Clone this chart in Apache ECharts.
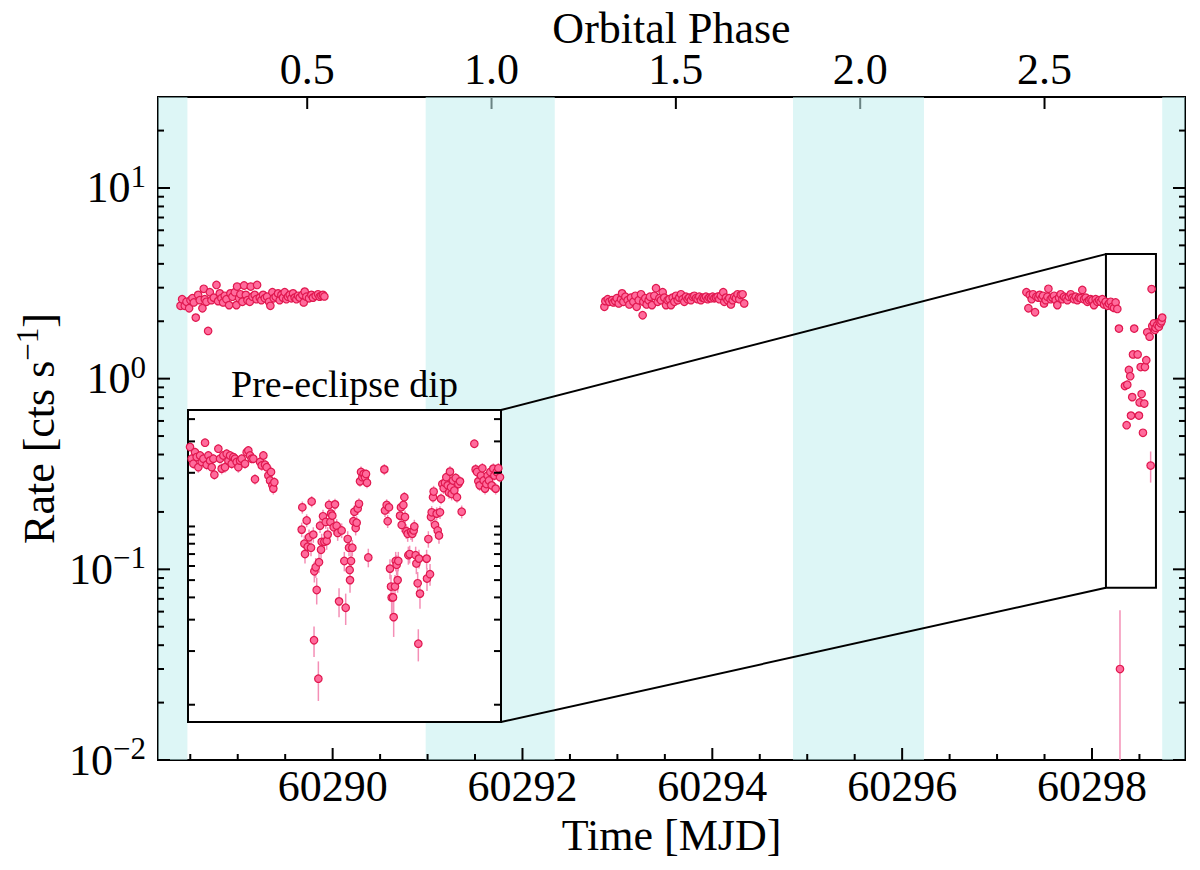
<!DOCTYPE html>
<html>
<head>
<meta charset="utf-8">
<script src="https://cdn.jsdelivr.net/npm/echarts/dist/echarts.min.js"></script>
<style>
  html, body { margin: 0; padding: 0; background: #fff; }
  #chart { width: 1200px; height: 870px; background: #fff; }
</style>
</head>
<body>
<div id="chart"></div>
<script>
// ---------------- data ----------------
const xRange = [60288.16, 60298.98];
const yRange = [0.01, 30];
const T0 = 60287.790;      // orbital phase zero (MJD)
const PERIOD = 3.884;      // orbital period (days)

const xMajorTicks = [60290, 60292, 60294, 60296, 60298];
const xMinorTicks = [60288.5, 60289, 60289.5, 60290.5, 60291, 60291.5, 60292.5, 60293, 60293.5,
  60294.5, 60295, 60295.5, 60296.5, 60297, 60297.5, 60298.5];
const yMajorTicks = [0.01, 0.1, 1, 10];
const yMinorTicks = [0.02, 0.03, 0.04, 0.05, 0.06, 0.07, 0.08, 0.09,
  0.2, 0.3, 0.4, 0.5, 0.6, 0.7, 0.8, 0.9, 2, 3, 4, 5, 6, 7, 8, 9, 20];
const phaseTicks = [0.5, 1.0, 1.5, 2.0, 2.5];

const eclipseBands = [[60288.16, 60288.47], [60290.98, 60292.34], [60294.85, 60296.23], [60298.74, 60298.98]];

const insetXRange = [60298.147, 60298.674];
const insetYRange = [0.08, 4.5];
const insetTicks = [0.1, 0.2, 0.3, 0.4, 0.5, 0.6, 0.7, 0.8, 0.9, 1, 2, 3, 4];

// main light curve: [MJD, rate] or [MJD, rate, err]
const segment1 = [
  [60288.397,2.41],[60288.414,2.61],[60288.442,2.41],[60288.460,2.53],[60288.488,2.34],[60288.502,2.58],
  [60288.523,2.64],[60288.537,2.51],[60288.558,2.09],[60288.583,2.75],[60288.600,2.58],[60288.628,2.34],
  [60288.642,2.96],[60288.653,2.61],[60288.670,2.53],[60288.688,1.78],[60288.706,2.84],[60288.723,2.58],
  [60288.748,2.66],[60288.776,3.10],[60288.793,2.55],[60288.811,2.80],[60288.828,2.64],[60288.846,2.51],
  [60288.863,2.72],[60288.881,2.61],[60288.909,2.43],[60288.923,2.80],[60288.944,2.69],[60288.969,2.84],
  [60288.986,2.43],[60288.993,3.04],[60289.014,2.64],[60289.028,2.77],[60289.049,2.53],[60289.067,3.08],
  [60289.085,2.75],[60289.102,2.58],[60289.127,2.53],[60289.137,3.04],[60289.155,2.69],[60289.179,2.75],
  [60289.197,2.61],[60289.204,3.10],[60289.232,2.66],[60289.249,2.58],[60289.267,2.75],[60289.285,2.64],
  [60289.309,2.69],[60289.330,2.53],[60289.344,2.41],[60289.365,2.84],[60289.379,2.64],[60289.400,2.69],
  [60289.425,2.80],[60289.442,2.58],[60289.460,2.75],[60289.477,2.66],[60289.495,2.84],[60289.512,2.61],
  [60289.530,2.69],[60289.548,2.75],[60289.565,2.64],[60289.583,2.80],[60289.600,2.66],[60289.618,2.61],
  [60289.635,2.72],[60289.653,2.66],[60289.681,2.75],[60289.695,2.51],[60289.706,2.86],[60289.723,2.69],
  [60289.751,2.64],[60289.776,2.75],[60289.793,2.66],[60289.821,2.72],[60289.846,2.77],[60289.863,2.69],
  [60289.881,2.72],[60289.898,2.75],[60289.913,2.70]
];
const segment2 = [
  [60292.863,2.38],[60292.873,2.55],[60292.898,2.61],[60292.915,2.53],[60292.943,2.58],[60292.957,2.51],
  [60292.978,2.55],[60292.993,2.64],[60293.014,2.48],[60293.038,2.61],[60293.049,2.80],[60293.063,2.53],
  [60293.084,2.69],[60293.108,2.58],[60293.126,2.45],[60293.143,2.66],[60293.168,2.53],[60293.189,2.72],
  [60293.203,2.38],[60293.224,2.58],[60293.249,2.77],[60293.266,2.15],[60293.273,2.53],[60293.294,2.64],
  [60293.308,2.45],[60293.329,2.58],[60293.343,2.69],[60293.364,2.43],[60293.389,2.72],[60293.407,2.98],
  [60293.424,2.53],[60293.442,2.64],[60293.459,2.58],[60293.477,2.84],[60293.494,2.66],[60293.512,2.43],
  [60293.529,2.58],[60293.547,2.61],[60293.565,2.43],[60293.582,2.66],[60293.600,2.53],[60293.617,2.72],
  [60293.635,2.58],[60293.652,2.66],[60293.670,2.77],[60293.687,2.61],[60293.705,2.53],[60293.722,2.69],
  [60293.740,2.61],[60293.757,2.66],[60293.775,2.58],[60293.793,2.69],[60293.810,2.72],[60293.828,2.64],
  [60293.845,2.61],[60293.863,2.69],[60293.880,2.58],[60293.898,2.66],[60293.915,2.64],[60293.933,2.69],
  [60293.951,2.61],[60293.968,2.66],[60293.986,2.64],[60294.003,2.69],[60294.021,2.64],[60294.038,2.66],
  [60294.056,2.69],[60294.073,2.61],[60294.091,2.72],[60294.115,2.84],[60294.126,2.53],[60294.143,2.66],
  [60294.161,2.58],[60294.178,2.64],[60294.196,2.45],[60294.214,2.58],[60294.231,2.69],[60294.249,2.64],
  [60294.266,2.77],[60294.284,2.61],[60294.301,2.75],[60294.319,2.77],[60294.336,2.48]
];
const segment3 = [
  [60297.309,2.84],[60297.330,2.34],[60297.344,2.75],[60297.365,2.61],[60297.379,2.77],[60297.400,2.23],
  [60297.414,2.69],[60297.435,2.66],[60297.449,2.75],[60297.470,2.64],[60297.484,2.72],[60297.495,2.48],
  [60297.512,2.58],[60297.530,2.69],[60297.541,2.96],[60297.565,2.61],[60297.583,2.66],[60297.600,2.72],
  [60297.618,2.58],[60297.635,2.43],[60297.653,2.66],[60297.670,2.77],[60297.688,2.61],[60297.705,2.69],
  [60297.723,2.64],[60297.741,2.58],[60297.758,2.69],[60297.776,2.77],[60297.793,2.66],[60297.811,2.61],
  [60297.828,2.69],[60297.846,2.58],[60297.863,2.66],[60297.881,2.64],[60297.898,2.92],[60297.916,2.61],
  [60297.934,2.66],[60297.951,2.53],[60297.969,2.58],[60297.986,2.61],[60298.004,2.58],[60298.021,2.43],
  [60298.039,2.61],[60298.056,2.53],[60298.074,2.58],[60298.091,2.53],[60298.109,2.61],[60298.127,2.45],
  [60298.144,2.53],[60298.162,2.41],[60298.179,2.48],[60298.197,2.53],[60298.214,2.38],[60298.232,2.35],
  [60298.249,2.51],[60298.267,2.32]
];
const dipMain = [
  [60298.284,1.83],[60298.295,0.030,0.031],[60298.347,0.915],[60298.365,0.57],[60298.372,0.93],
  [60298.389,1.11],[60298.403,1.03],[60298.411,0.64],[60298.424,0.80],[60298.432,1.34],[60298.445,1.83],
  [60298.481,1.34],[60298.495,0.64],[60298.502,0.75],[60298.513,1.15],[60298.523,0.83],[60298.537,0.52],
  [60298.551,0.74],[60298.558,1.15],[60298.572,1.25],[60298.582,1.75],[60298.607,1.66],[60298.618,0.35,0.065],
  [60298.628,2.95,0.12],[60298.635,1.89],[60298.653,1.95],[60298.663,1.80],[60298.671,1.85],[60298.688,1.91],
  [60298.705,1.87],[60298.713,1.99],[60298.723,1.95],[60298.733,2.00],[60298.740,2.09]
];

// inset (finer binning): [MJD, rate, err]
const insetData = [
  [60298.1504,2.79,0.15],[60298.1532,2.40,0.15],[60298.1560,2.25,0.15],[60298.1588,2.61,0.15],[60298.1616,2.45,0.15],
  [60298.1644,2.15,0.15],[60298.1673,2.50,0.15],[60298.1701,2.30,0.15],[60298.1729,2.40,0.15],[60298.1757,2.95,0.15],
  [60298.1785,2.22,0.15],[60298.1813,2.50,0.15],[60298.1841,2.34,0.15],[60298.1869,2.15,0.15],[60298.1897,2.40,0.15],
  [60298.1914,1.95,0.12],[60298.1981,2.73,0.15],[60298.2009,2.40,0.15],[60298.2037,2.11,0.15],[60298.2065,2.50,0.15],
  [60298.2093,2.15,0.15],[60298.2121,2.56,0.15],[60298.2150,2.34,0.15],[60298.2178,2.50,0.15],[60298.2206,2.25,0.15],
  [60298.2234,2.45,0.15],[60298.2262,2.40,0.15],[60298.2290,2.30,0.15],[60298.2318,2.15,0.15],[60298.2346,2.34,0.15],
  [60298.2374,2.40,0.15],[60298.2430,2.25,0.15],[60298.2458,2.61,0.15],[60298.2486,2.67,0.15],[60298.2514,2.50,0.15],
  [60298.2542,2.40,0.15],[60298.2570,2.40,0.15],[60298.2598,1.84,0.12],[60298.2683,2.30,0.15],[60298.2711,2.20,0.15],
  [60298.2739,2.50,0.15],[60298.2767,2.22,0.15],[60298.2795,2.15,0.15],[60298.2823,1.93,0.12],[60298.2851,1.81,0.12],
  [60298.2868,2.02,0.15],[60298.2890,1.70,0.12],[60298.2907,1.63,0.12],[60298.2924,1.77,0.12],
  [60298.3384,0.96,0.09],[60298.3395,1.28,0.10],[60298.3429,0.80,0.09],[60298.3440,0.70,0.08],[60298.3468,1.08,0.09],
  [60298.3485,0.77,0.08],[60298.3508,0.87,0.09],[60298.3541,0.76,0.08],[60298.3552,1.38,0.10],[60298.3580,0.90,0.09],
  [60298.3597,0.56,0.075],[60298.3592,0.23,0.045],[60298.3620,0.59,0.075],[60298.3637,0.44,0.075],[60298.3665,0.14,0.035],
  [60298.3676,0.63,0.08],[60298.3693,1.01,0.09],[60298.3710,0.74,0.08],[60298.3721,0.82,0.09],[60298.3743,1.14,0.10],
  [60298.3766,0.82,0.09],[60298.3788,1.06,0.09],[60298.3805,0.83,0.09],[60298.3822,0.90,0.09],[60298.3844,1.32,0.10],
  [60298.3867,1.06,0.09],[60298.3878,1.18,0.10],[60298.3900,1.15,0.10],[60298.3923,0.99,0.09],[60298.3945,1.33,0.10],
  [60298.3973,1.01,0.09],[60298.3990,0.92,0.09],[60298.4013,0.38,0.07],[60298.4057,0.95,0.09],[60298.4102,0.64,0.08],
  [60298.4125,0.35,0.07],[60298.4159,0.85,0.09],[60298.4181,0.76,0.08],[60298.4192,0.57,0.075],[60298.4198,0.50,0.075],
  [60298.4215,0.64,0.08],[60298.4237,0.76,0.08],[60298.4254,1.07,0.09],[60298.4271,1.21,0.10],[60298.4293,0.98,0.09],
  [60298.4310,1.05,0.09],[60298.4327,1.26,0.10],[60298.4349,1.34,0.10],[60298.4366,1.79,0.12],[60298.4383,2.02,0.15],
  [60298.4405,1.89,0.12],[60298.4428,1.97,0.12],[60298.4450,1.89,0.12],[60298.4467,1.97,0.12],[60298.4484,1.76,0.12],
  [60298.4506,0.67,0.08],[60298.4776,2.09,0.15],[60298.4787,1.23,0.10],[60298.4815,1.32,0.10],[60298.4832,1.07,0.09],
  [60298.4854,1.28,0.10],[60298.4871,0.58,0.075],[60298.4888,0.46,0.075],[60298.4899,0.40,0.075],[60298.4922,0.40,0.075],
  [60298.4933,0.31,0.07],[60298.4955,0.46,0.075],[60298.4967,0.64,0.08],[60298.4983,0.61,0.08],[60298.5000,0.50,0.075],
  [60298.5011,0.64,0.08],[60298.5040,1.15,0.10],[60298.5056,1.28,0.10],[60298.5068,1.02,0.09],[60298.5096,1.32,0.10],
  [60298.5113,1.46,0.10],[60298.5124,1.13,0.10],[60298.5146,0.94,0.09],[60298.5169,0.91,0.09],[60298.5180,0.69,0.08],
  [60298.5202,0.70,0.08],[60298.5225,0.93,0.09],[60298.5247,0.91,0.09],[60298.5270,0.95,0.09],[60298.5281,1.00,0.09],
  [60298.5303,0.69,0.08],[60298.5315,0.62,0.08],[60298.5337,0.48,0.075],[60298.5348,0.22,0.045],[60298.5359,0.66,0.08],
  [60298.5376,0.42,0.075],[60298.5488,0.66,0.08],[60298.5494,0.51,0.075],[60298.5517,0.85,0.09],[60298.5545,0.54,0.075],
  [60298.5561,1.13,0.10],[60298.5573,1.20,0.10],[60298.5595,1.46,0.10],[60298.5606,1.57,0.12],[60298.5629,1.02,0.09],
  [60298.5657,1.18,0.10],[60298.5674,0.95,0.09],[60298.5696,0.89,0.09],[60298.5713,1.20,0.10],[60298.5730,1.43,0.10],
  [60298.5752,1.73,0.12],[60298.5775,1.64,0.12],[60298.5797,1.76,0.12],[60298.5819,1.89,0.12],[60298.5842,1.70,0.12],
  [60298.5864,1.55,0.12],[60298.5881,2.03,0.15],[60298.5898,1.66,0.12],[60298.5909,1.52,0.12],[60298.5932,1.81,0.12],
  [60298.5954,1.59,0.12],[60298.5977,1.87,0.12],[60298.5999,1.46,0.10],[60298.6022,1.73,0.12],[60298.6050,1.79,0.12],
  [60298.6078,1.21,0.10],
  [60298.6291,2.91,0.15],[60298.6313,2.09,0.15],[60298.6336,2.02,0.15],[60298.6358,1.79,0.12],[60298.6381,1.70,0.12],
  [60298.6403,1.93,0.12],[60298.6426,2.12,0.15],[60298.6448,1.81,0.12],[60298.6471,1.63,0.12],[60298.6493,1.73,0.12],
  [60298.6515,1.93,0.12],[60298.6538,1.81,0.12],[60298.6560,2.02,0.15],[60298.6583,1.70,0.12],[60298.6611,2.11,0.15],
  [60298.6628,1.93,0.12],[60298.6650,1.63,0.12],[60298.6667,2.02,0.15],[60298.6695,2.12,0.15],[60298.6723,1.89,0.12]
];

// ---------------- styles ----------------
const FONT = '"Liberation Serif", "Times New Roman", Times, serif';
const FILL = '#ff6b9c';
const EDGE = '#e0184f';
const ERRC = '#f48fb6';
const BAND = 'rgba(193,239,239,0.55)';
const MAJOR_LEN = 12, MINOR_LEN = 6, INSET_LEN = 7;

const mainPoints = segment1.concat(segment2, segment3, dipMain);
const mainScatter = mainPoints.map(p => [p[0], p[1]]);
const mainErr = mainPoints.filter(p => p.length > 2).map(p => [p[0], Math.max(p[1] - p[2], 1e-4), p[1] + p[2]]);
const insetScatter = insetData.map(p => [p[0], p[1]]);
const insetErr = insetData.map(p => [p[0], Math.max(p[1] - p[2], 1e-4), p[1] + p[2]]);

function supLabel(v) {
  const e = Math.round(Math.log10(v));
  return '{b|10}{s|' + (e < 0 ? '\u2212' : '') + Math.abs(e) + '}';
}
const labelRich = {
  b: { fontFamily: FONT, fontSize: 44, lineHeight: 54, color: '#000' },
  s: { fontFamily: FONT, fontSize: 31, lineHeight: 26, verticalAlign: 'top', color: '#000' }
};

function errRender(params, api) {
  const x = api.value(0);
  const p1 = api.coord([x, api.value(2)]);
  const p2 = api.coord([x, api.value(1)]);
  return { type: 'line', shape: { x1: p1[0], y1: p1[1], x2: p2[0], y2: p2[1] },
           style: { stroke: ERRC, lineWidth: 1.5 } };
}

const chart = echarts.init(document.getElementById('chart'), null, { renderer: 'svg' });

const option = {
  animation: false,
  textStyle: { fontFamily: FONT, color: '#000' },
  grid: [
    { left: 158, top: 97, width: 1027, height: 663, show: true, borderColor: '#000', borderWidth: 2,
      containLabel: false, outerBoundsMode: 'none' },
    { left: 188, top: 410, width: 313, height: 312, show: true, borderColor: '#000', borderWidth: 2,
      backgroundColor: '#fff', z: 5, containLabel: false, outerBoundsMode: 'none' }
  ],
  xAxis: [
    { // 0 main bottom: MJD
      type: 'value', gridIndex: 0, position: 'bottom', min: xRange[0], max: xRange[1],
      axisLine: { show: false }, splitLine: { show: false }, axisTick: { show: false },
      axisLabel: { customValues: xMajorTicks, formatter: v => String(v), fontSize: 44, lineHeight: 44, fontFamily: FONT, color: '#000', margin: 4 },
      name: 'Time [MJD]', nameLocation: 'middle', nameGap: 53, nameMoveOverlap: false,
      nameTextStyle: { fontSize: 44, lineHeight: 44, fontFamily: FONT, color: '#000' }
    },
    { // 1 top: orbital phase
      type: 'value', gridIndex: 0, position: 'top',
      min: (xRange[0] - T0) / PERIOD, max: (xRange[1] - T0) / PERIOD,
      axisLine: { show: false }, splitLine: { show: false }, axisTick: { show: false },
      axisLabel: { customValues: phaseTicks, formatter: v => v.toFixed(1), fontSize: 44, lineHeight: 40, fontFamily: FONT, color: '#000', margin: 8 },
      name: 'Orbital Phase', nameLocation: 'middle', nameGap: 49, nameMoveOverlap: false,
      nameTextStyle: { fontSize: 44, lineHeight: 40, fontFamily: FONT, color: '#000' }
    },
    { // 2 inset
      type: 'value', gridIndex: 1, position: 'top', min: insetXRange[0], max: insetXRange[1], z: 6,
      axisLine: { show: false }, splitLine: { show: false }, axisTick: { show: false }, axisLabel: { show: false },
      name: 'Pre-eclipse dip', nameLocation: 'middle', nameGap: 7, nameMoveOverlap: false,
      nameTextStyle: { fontSize: 38, fontFamily: FONT, color: '#000' }
    }
  ],
  yAxis: [
    { // 0 main left
      type: 'log', logBase: 10, gridIndex: 0, position: 'left', min: yRange[0], max: yRange[1],
      axisLine: { show: false }, splitLine: { show: false }, axisTick: { show: false },
      axisLabel: { show: true, customValues: yMajorTicks, formatter: supLabel, rich: labelRich, margin: 12 },
      name: '{n|Rate [cts s}{s|\u22121}{n|]}', nameLocation: 'middle', nameGap: 92, nameMoveOverlap: false,
      nameTextStyle: { rich: {
        n: { fontFamily: FONT, fontSize: 44, lineHeight: 54, color: '#000' },
        s: { fontFamily: FONT, fontSize: 31, lineHeight: 26, verticalAlign: 'top', color: '#000' } } }
    },
    { // 1 inset
      type: 'log', logBase: 10, gridIndex: 1, position: 'left', min: insetYRange[0], max: insetYRange[1], z: 6,
      axisLine: { show: false }, splitLine: { show: false }, axisTick: { show: false }, axisLabel: { show: false }
    }
  ],
  series: [
    { // 0 eclipse bands
      type: 'custom', xAxisIndex: 0, yAxisIndex: 0, z: 1, clip: true, silent: true,
      data: eclipseBands,
      renderItem: (params, api) => {
        const a = api.coord([api.value(0), yRange[1]]);
        const b = api.coord([api.value(1), yRange[0]]);
        return { type: 'rect', shape: { x: a[0], y: a[1], width: b[0] - a[0], height: b[1] - a[1] },
                 style: { fill: BAND } };
      }
    },
    { // 1 zoom rectangle in main panel
      type: 'custom', xAxisIndex: 0, yAxisIndex: 0, z: 3, silent: true,
      data: [[insetXRange[0], insetXRange[1], insetYRange[0], insetYRange[1]]],
      renderItem: (params, api) => {
        const a = api.coord([api.value(0), api.value(3)]);
        const b = api.coord([api.value(1), api.value(2)]);
        return { type: 'rect', shape: { x: a[0], y: a[1], width: b[0] - a[0], height: b[1] - a[1] },
                 style: { fill: 'none', stroke: '#000', lineWidth: 2 } };
      }
    },
    { // 2 main error bars
      type: 'custom', xAxisIndex: 0, yAxisIndex: 0, z: 3, clip: true, silent: true,
      data: mainErr, renderItem: errRender
    },
    { // 3 main points
      type: 'scatter', xAxisIndex: 0, yAxisIndex: 0, z: 4, silent: true,
      symbol: 'circle', symbolSize: 7.5,
      itemStyle: { color: FILL, borderColor: EDGE, borderWidth: 1.2, opacity: 1 },
      data: mainScatter
    },
    { // 4 inset error bars
      type: 'custom', xAxisIndex: 2, yAxisIndex: 1, z: 7, clip: true, silent: true,
      data: insetErr, renderItem: errRender
    },
    { // 5 inset points
      type: 'scatter', xAxisIndex: 2, yAxisIndex: 1, z: 8, silent: true,
      symbol: 'circle', symbolSize: 7.5,
      itemStyle: { color: FILL, borderColor: EDGE, borderWidth: 1.2, opacity: 1 },
      data: insetScatter
    }
  ]
};
chart.setOption(option);

// ---- ticks and connectors, positioned through the axes' scales ----
const MAIN = { seriesIndex: 3 }, INSET = { seriesIndex: 5 };
const px = (finder, x, y) => chart.convertToPixel(finder, [x, y]);
const g = [];
function seg(x1, y1, x2, y2, z) {
  g.push({ type: 'line', z: z, shape: { x1: x1, y1: y1, x2: x2, y2: y2 },
           style: { stroke: '#000', lineWidth: 2 } });
}
const mL = px(MAIN, xRange[0], 1)[0], mR = px(MAIN, xRange[1], 1)[0];
const mB = px(MAIN, xRange[0], yRange[0])[1], mT = px(MAIN, xRange[0], yRange[1])[1];
function mainY(v, len) {
  const y = px(MAIN, xRange[0], v)[1];
  seg(mL, y, mL + len, y, 50); seg(mR - len, y, mR, y, 50);
}
yMajorTicks.forEach(v => mainY(v, MAJOR_LEN));
yMinorTicks.forEach(v => mainY(v, MINOR_LEN));
xMajorTicks.forEach(v => { const x = px(MAIN, v, yRange[0])[0]; seg(x, mB, x, mB - MAJOR_LEN, 50); });
xMinorTicks.forEach(v => { const x = px(MAIN, v, yRange[0])[0]; seg(x, mB, x, mB - MINOR_LEN, 50); });
// top phase ticks, drawn beneath the eclipse shading
phaseTicks.forEach(ph => { const x = px(MAIN, T0 + ph * PERIOD, yRange[1])[0]; seg(x, mT, x, mT + MAJOR_LEN, 0); });
// inset ticks (both sides)
const iL = px(INSET, insetXRange[0], 1)[0], iR = px(INSET, insetXRange[1], 1)[0];
insetTicks.forEach(v => {
  const y = px(INSET, insetXRange[0], v)[1];
  seg(iL, y, iL + INSET_LEN, y, 50); seg(iR - INSET_LEN, y, iR, y, 50);
});
// connector lines between zoom rectangle and inset
const rTL = px({ seriesIndex: 1 }, insetXRange[0], insetYRange[1]);
const rBL = px({ seriesIndex: 1 }, insetXRange[0], insetYRange[0]);
const iTR = px(INSET, insetXRange[1], insetYRange[1]);
const iBR = px(INSET, insetXRange[1], insetYRange[0]);
seg(iTR[0], iTR[1], rTL[0], rTL[1], 50);
seg(iBR[0], iBR[1], rBL[0], rBL[1], 50);

chart.setOption({ graphic: { elements: g } });
</script>
</body>
</html>
